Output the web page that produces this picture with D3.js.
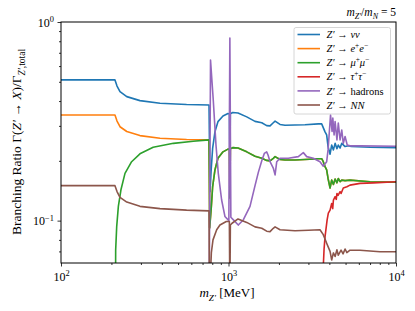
<!DOCTYPE html>
<html>
<head>
<meta charset="utf-8">
<script src="https://cdn.jsdelivr.net/npm/d3@7"></script>
<style>
  body { margin: 0; background: #fff; }
  svg text { font-family: "Liberation Serif", "DejaVu Serif", serif; fill: #000; }
  .domain { display: none; }
  .line { fill: none; stroke-width: 1.6; stroke-linejoin: round; }
</style>
</head>
<body>
<div id="chart"></div>
<script>
// values: [m_Z' in MeV, branching ratio]
var nunu = [[100,0.511],[210,0.511],[216,0.476],[225,0.446],[247,0.421],[296,0.402],[390,0.390],[562,0.384],[765,0.382],
  [776,0.14],[787,0.177],[804,0.231],[830,0.280],[865,0.315],[927,0.336],[993,0.346],[1012,0.344],[1019,0.20],[1026,0.345],
  [1060,0.350],[1140,0.348],[1285,0.333],[1440,0.316],[1580,0.311],[1690,0.301],[1770,0.300],[1851,0.311],[1897,0.317],
  [2030,0.305],[2175,0.302],[2494,0.303],[2861,0.304],[3440,0.307],[3600,0.307],[3770,0.28],[3855,0.270],[3930,0.236],
  [4040,0.216],[4130,0.240],[4230,0.227],[4330,0.245],[4440,0.230],[4524,0.240],[4637,0.232],[4745,0.245],[4966,0.236],
  [5200,0.238],[5400,0.236],[7000,0.234],[10000,0.233]];

var ee = [[100,0.340],[210,0.340],[216,0.317],[225,0.297],[247,0.281],[296,0.268],[390,0.260],[562,0.256],[765,0.255]];

var mumu = [[211,0.02],[212,0.071],[215,0.093],[220,0.118],[228,0.143],[241,0.173],[264,0.198],[296,0.217],[355,0.234],
  [469,0.245],[616,0.251],[765,0.255],[772,0.092],[790,0.118],[804,0.148],[830,0.180],[865,0.206],[927,0.222],[993,0.229],
  [1012,0.229],[1019,0.13],[1026,0.230],[1060,0.233],[1140,0.232],[1285,0.222],[1440,0.211],[1580,0.206],[1690,0.201],
  [1770,0.200],[1851,0.206],[1897,0.210],[2030,0.203],[2175,0.202],[2494,0.202],[2861,0.203],[3440,0.205],[3600,0.205],
  [3680,0.198],[3770,0.187],[3855,0.180],[3930,0.163],[4040,0.146],[4130,0.160],[4230,0.152],[4330,0.162],[4440,0.155],
  [4524,0.163],[4637,0.157],[4745,0.160],[4966,0.159],[5314,0.160],[7000,0.157],[10000,0.156]];

var tautau = [[3560,0.01],[3650,0.05],[3720,0.072],[3770,0.083],[3880,0.1008],[3945,0.109],[4040,0.113],[4130,0.122],
  [4190,0.115],[4230,0.127],[4330,0.132],[4400,0.128],[4440,0.137],[4510,0.134],[4637,0.140],[4700,0.137],[4845,0.146],
  [5090,0.148],[5314,0.151],[6097,0.154],[7340,0.155],[10000,0.157]];

var hadrons = [[765,0.03],[781,0.644],[811,0.405],[842,0.24],[869,0.173],[910,0.127],[952,0.105],[1005,0.10],[1019,0.83],
  [1033,0.104],[1080,0.100],[1144,0.095],[1225,0.1008],[1344,0.118],[1440,0.150],[1507,0.175],[1580,0.200],[1636,0.218],
  [1690,0.222],[1722,0.214],[1770,0.198],[1851,0.184],[1897,0.170],[1941,0.198],[2030,0.206],[2275,0.206],[2611,0.210],
  [2797,0.220],[2930,0.210],[3209,0.206],[3517,0.198],[3680,0.188],[3855,0.198],[3930,0.227],[4066,0.34],[4153,0.281],
  [4196,0.328],[4270,0.27],[4330,0.315],[4440,0.255],[4524,0.31],[4637,0.255],[4745,0.286],[4845,0.245],[4966,0.265],
  [5117,0.24],[5314,0.238],[6097,0.238],[10000,0.237]];

var nn = [[100,0.150],[210,0.150],[216,0.140],[225,0.131],[247,0.124],[296,0.118],[390,0.115],[562,0.113],[765,0.112],
  [770,0.04],[790,0.069],[808,0.080],[850,0.090],[889,0.095],[970,0.099],[1012,0.099],[1019,0.04],[1026,0.095],[1050,0.097],
  [1140,0.102],[1285,0.098],[1440,0.093],[1580,0.0915],[1690,0.0885],[1770,0.088],[1851,0.0915],[1897,0.093],[2030,0.090],
  [2494,0.089],[3000,0.0895],[3517,0.090],[3680,0.085],[3855,0.077],[4040,0.070],[4130,0.0634],[4230,0.0688],[4330,0.066],
  [4440,0.0713],[4524,0.067],[4700,0.071],[4830,0.068],[4966,0.072],[5090,0.069],[5314,0.071],[6097,0.071],[8020,0.0697],
  [10000,0.0697]];

var xMajor = [100, 1000, 10000];
var xMinor = [200,300,400,500,600,700,800,900,2000,3000,4000,5000,6000,7000,8000,9000];
var yMajor = [0.1, 1];
var yMinor = [0.07,0.08,0.09,0.2,0.3,0.4,0.5,0.6,0.7,0.8,0.9];

function addMath(sel, parts, fs) {
  var cur = 0;
  parts.forEach(function (p) {
    var off = p[2] === "sup" ? -0.38 * fs : (p[2] === "sub" ? 0.28 * fs : 0);
    sel.append("tspan")
      .attr("dy", off - cur)
      .style("font-style", p[1] ? "italic" : "normal")
      .style("font-size", (p[2] ? fs * 0.7 : fs) + "px")
      .text(p[0]);
    cur = off;
  });
}

function init() {
  var w = 415, h = 311;
  var left = 61, right = 396, top = 22, bottom = 263;

  var svg = d3.select("#chart").append("svg")
    .attr("width", w)
    .attr("height", h);

  var xScale = d3.scaleLog().domain([100, 10000]).range([left, right]);
  var yScale = d3.scaleLog().domain([0.0612, 1]).range([bottom, top]);

  svg.append("clipPath").attr("id", "clip")
    .append("rect")
    .attr("x", left).attr("y", top)
    .attr("width", right - left).attr("height", bottom - top);

  var line = d3.line()
    .x(function (d) { return xScale(d[0]); })
    .y(function (d) { return yScale(d[1]); });

  var eeAll = ee.concat(mumu.filter(function (d) { return d[0] > 765; }));

  var series = [
    { data: nunu, color: "#1f77b4", label: [["Z′",1],[" → ",0],["νν",1]] },
    { data: eeAll, color: "#ff7f0e", label: [["Z′",1],[" → ",0],["e",1],["+",0,"sup"],["e",1],["−",0,"sup"]] },
    { data: mumu, color: "#2ca02c", label: [["Z′",1],[" → ",0],["μ",1],["+",0,"sup"],["μ",1],["−",0,"sup"]] },
    { data: tautau, color: "#d62728", label: [["Z′",1],[" → ",0],["τ",1],["+",0,"sup"],["τ",1],["−",0,"sup"]] },
    { data: hadrons, color: "#9467bd", label: [["Z′",1],[" → hadrons",0]] },
    { data: nn, color: "#8c564b", label: [["Z′",1],[" → ",0],["NN",1]] }
  ];

  var plot = svg.append("g").attr("clip-path", "url(#clip)");
  plot.selectAll("path")
    .data(series)
    .enter()
    .append("path")
    .attr("class", "line")
    .attr("stroke", function (d) { return d.color; })
    .attr("d", function (d) { return line(d.data); });

  // axes
  var xAxis = svg.append("g")
    .attr("transform", "translate(0," + bottom + ")")
    .call(d3.axisBottom(xScale).tickValues(xMajor).tickSize(3.5));
  xAxis.selectAll(".tick text").each(function (d) {
    var t = d3.select(this).text("").attr("y", 18).attr("dy", null);
    addMath(t, [["10",0],[String(Math.round(Math.log10(d))),0,"sup"]], 12);
  });
  svg.append("g")
    .attr("transform", "translate(0," + bottom + ")")
    .call(d3.axisBottom(xScale).tickValues(xMinor).tickSize(2).tickFormat(""));

  var yAxis = svg.append("g")
    .attr("transform", "translate(" + left + ",0)")
    .call(d3.axisLeft(yScale).tickValues(yMajor).tickSize(3.5));
  yAxis.selectAll(".tick text").each(function (d) {
    var t = d3.select(this).text("").attr("x", -7).attr("y", 4).attr("dy", null);
    var p = Math.round(Math.log10(d));
    addMath(t, [["10",0],[p < 0 ? "−" + (-p) : String(p),0,"sup"]], 12);
  });
  svg.append("g")
    .attr("transform", "translate(" + left + ",0)")
    .call(d3.axisLeft(yScale).tickValues(yMinor).tickSize(2).tickFormat(""));

  svg.selectAll(".tick line").attr("stroke", "#000").attr("stroke-width", 0.8);

  svg.append("rect")
    .attr("x", left).attr("y", top)
    .attr("width", right - left).attr("height", bottom - top)
    .attr("fill", "none")
    .attr("stroke", "#000")
    .attr("stroke-width", 1);

  // labels
  var xl = svg.append("text")
    .attr("x", 227)
    .attr("y", 297)
    .attr("text-anchor", "middle")
    .style("font-size", "13px");
  addMath(xl, [["m",1],["Z′",1,"sub"],[" [MeV]",0]], 13);

  var yl = svg.append("text")
    .attr("transform", "rotate(-90, 21, 142)")
    .attr("x", 21)
    .attr("y", 142)
    .attr("text-anchor", "middle")
    .style("font-size", "13.5px");
  addMath(yl, [["Branching Ratio Γ(",0],["Z′",1],[" → ",0],["X",1],[")/Γ",0],["Z′",1,"sub"],[",total",0,"sub"]], 13.5);

  var title = svg.append("text")
    .attr("x", right)
    .attr("y", 16)
    .attr("text-anchor", "end")
    .style("font-size", "11.5px");
  addMath(title, [["m",1],["Z′",1,"sub"],["/",0],["m",1],["N",1,"sub"],[" = 5",0]], 11.5);

  // legend
  var legend = svg.append("g");
  legend.append("rect")
    .attr("x", 294).attr("y", 27.5)
    .attr("width", 96.5).attr("height", 86.5)
    .attr("rx", 2)
    .attr("fill", "#fff").attr("fill-opacity", 0.8)
    .attr("stroke", "#ccc").attr("stroke-width", 0.8);
  var rows = legend.selectAll("g.row")
    .data(series)
    .enter()
    .append("g")
    .attr("class", "row")
    .attr("transform", function (d, i) { return "translate(0," + (34.5 + i * 14.1) + ")"; });
  rows.append("line")
    .attr("x1", 297.5).attr("x2", 320)
    .attr("stroke", function (d) { return d.color; })
    .attr("stroke-width", 1.6);
  rows.append("text")
    .attr("x", 326.5)
    .attr("y", 3.6)
    .style("font-size", "10.5px")
    .each(function (d) { addMath(d3.select(this), d.label, 10.5); });
}

window.onload = init;
</script>
</body>
</html>
